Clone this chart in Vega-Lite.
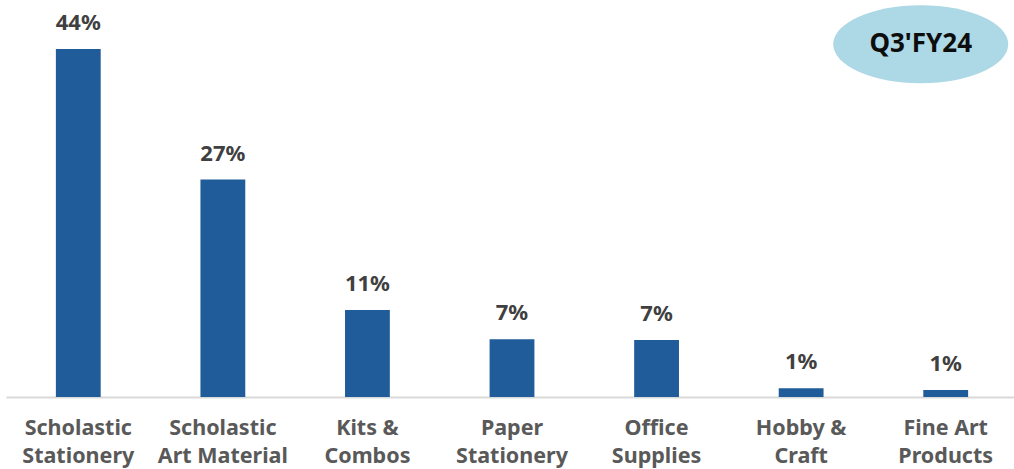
{
  "$schema": "https://vega.github.io/schema/vega-lite/v6.json",
  "width": 1012,
  "height": 397,
  "autosize": {"type": "none"},
  "padding": {"left": 6, "top": 0, "right": 0, "bottom": 72},
  "background": "white",
  "config": {"view": {"stroke": null}, "font": "Noto Sans"},
  "datasets": {
    "share": [
      {"category": "Scholastic Stationery", "value": 44.0, "label": "44%"},
      {"category": "Scholastic Art Material", "value": 27.5, "label": "27%"},
      {"category": "Kits & Combos", "value": 11.0, "label": "11%"},
      {"category": "Paper Stationery", "value": 7.3, "label": "7%"},
      {"category": "Office Supplies", "value": 7.2, "label": "7%"},
      {"category": "Hobby & Craft", "value": 1.1, "label": "1%"},
      {"category": "Fine Art Products", "value": 0.9, "label": "1%"}
    ],
    "badge": [
      {"category": "Fine Art Products", "value": 44.6, "text": "Q3'FY24"}
    ]
  },
  "layer": [
    {
      "data": {"name": "share"},
      "mark": {"type": "bar", "color": "#1F5C99"},
      "encoding": {
        "x": {
          "field": "category", "type": "nominal", "sort": null,
          "scale": {"paddingInner": 0.69, "paddingOuter": 0.345},
          "axis": {
            "title": null, "ticks": false, "domainColor": "#D9D9D9", "domainWidth": 2,
            "labelAngle": 0, "labelFontSize": 21.5, "labelFontWeight": "bold", "labelColor": "#595959",
            "labelFont": "Noto Sans", "labelPadding": 20, "labelLineHeight": 28, "labelBaseline": "top",
            "labelExpr": "({'Scholastic Stationery':['Scholastic','Stationery'],'Scholastic Art Material':['Scholastic','Art Material'],'Kits & Combos':['Kits &','Combos'],'Paper Stationery':['Paper','Stationery'],'Office Supplies':['Office','Supplies'],'Hobby & Craft':['Hobby &','Craft'],'Fine Art Products':['Fine Art','Products']})[datum.value]"
          }
        },
        "y": {
          "field": "value", "type": "quantitative",
          "scale": {"domain": [0, 50.2], "nice": false},
          "axis": null
        }
      }
    },
    {
      "data": {"name": "share"},
      "mark": {"type": "text", "baseline": "bottom", "dy": -14, "fontSize": 22, "fontWeight": "bold", "color": "#404040", "font": "Noto Sans"},
      "encoding": {
        "x": {"field": "category", "type": "nominal", "sort": null},
        "y": {"field": "value", "type": "quantitative"},
        "text": {"field": "label"}
      }
    },
    {
      "data": {"name": "badge"},
      "mark": {"type": "point", "filled": true, "opacity": 1, "color": "#ADD8E6", "strokeWidth": 0,
        "shape": "M -1 0 A 1 0.446 0 1 0 1 0 A 1 0.446 0 1 0 -1 0", "size": 30625, "xOffset": -25},
      "encoding": {
        "x": {"field": "category", "type": "nominal", "sort": null},
        "y": {"field": "value", "type": "quantitative"}
      }
    },
    {
      "data": {"name": "badge"},
      "mark": {"type": "text", "fontSize": 26, "fontWeight": "bold", "color": "#0D0D0D", "font": "Noto Sans", "xOffset": -25, "baseline": "middle"},
      "encoding": {
        "x": {"field": "category", "type": "nominal", "sort": null},
        "y": {"field": "value", "type": "quantitative"},
        "text": {"field": "text"}
      }
    }
  ]
}
